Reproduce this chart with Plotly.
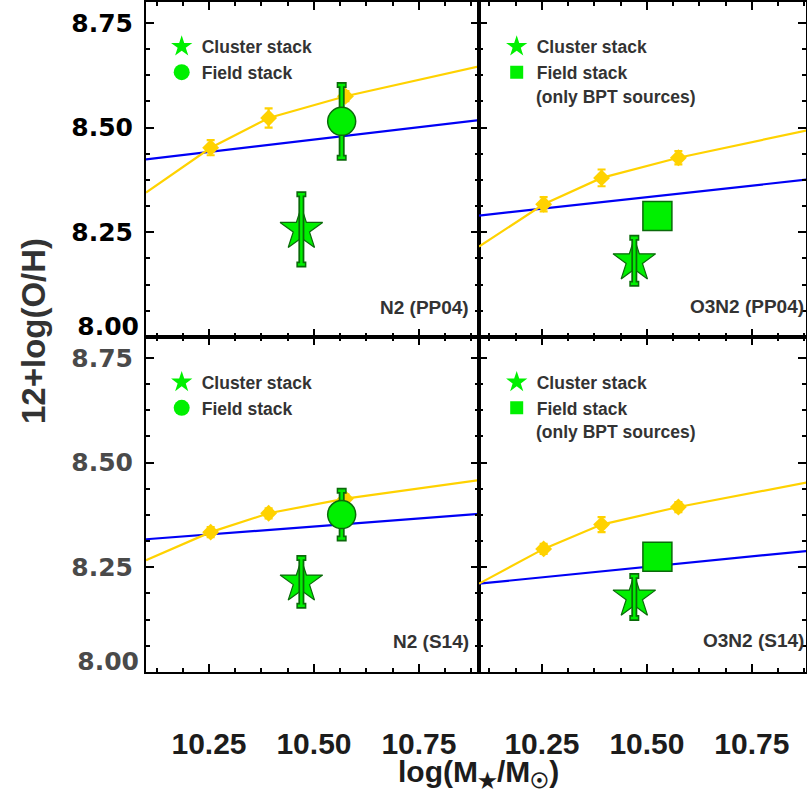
import plotly.graph_objects as go

# ---------------- data ----------------
x_tick_vals = [10.25, 10.50, 10.75]
x_tick_text = ["10.25", "10.50", "10.75"]
y_tick_vals = [8.00, 8.25, 8.50, 8.75]
y_tick_text = ["8.00", "8.25", "8.50", "8.75"]

panel_labels = ["N2 (PP04)", "O3N2 (PP04)", "N2 (S14)", "O3N2 (S14)"]
legend_cluster = "Cluster stack"
legend_field = "Field stack"
legend_field_note = "(only BPT sources)"

# yellow local relation: binned points
bin_mass = [10.254, 10.392, 10.575]
bin_oh_n2_pp04 = [8.452, 8.523, 8.575]
bin_err_n2_pp04 = [0.018, 0.023, 0.012]
bin_oh_o3n2_pp04 = [8.317, 8.380, 8.428]
bin_err_o3n2_pp04 = [0.017, 0.020, 0.016]
bin_oh_n2_s14 = [8.334, 8.379, 8.414]
bin_err_n2_s14 = [0.012, 0.012, 0.010]
bin_oh_o3n2_s14 = [8.294, 8.352, 8.394]
bin_err_o3n2_s14 = [0.012, 0.018, 0.012]

# yellow curve nodes
curve_mass = [10.1, 10.254, 10.392, 10.575, 10.9]
curve_oh_n2_pp04 = [8.345, 8.452, 8.523, 8.575, 8.648]
curve_oh_o3n2_pp04 = [8.216, 8.317, 8.380, 8.428, 8.4975]
curve_oh_n2_s14 = [8.267, 8.334, 8.379, 8.414, 8.459]
curve_oh_o3n2_s14 = [8.211, 8.294, 8.352, 8.394, 8.456]

# blue relation
blue_mass = [10.1, 10.9]
blue_oh_n2_pp04 = [8.424, 8.519]
blue_oh_o3n2_pp04 = [8.290, 8.378]
blue_oh_n2_s14 = [8.317, 8.378]
blue_oh_o3n2_s14 = [8.211, 8.291]

# stacks
cluster_mass = [10.47, 10.47, 10.47, 10.47]
cluster_oh = [8.257, 8.182, 8.215, 8.179]
cluster_err = [0.084, 0.055, 0.057, 0.050]
field_mass = [10.566, 10.525, 10.566, 10.525]
field_oh = [8.515, 8.289, 8.376, 8.275]
field_err = [0.087, 0.0, 0.057, 0.0]
field_symbol = ["circle", "square", "circle", "square"]

bins_oh = [bin_oh_n2_pp04, bin_oh_o3n2_pp04, bin_oh_n2_s14, bin_oh_o3n2_s14]
bins_err = [bin_err_n2_pp04, bin_err_o3n2_pp04, bin_err_n2_s14, bin_err_o3n2_s14]
curves_oh = [curve_oh_n2_pp04, curve_oh_o3n2_pp04, curve_oh_n2_s14, curve_oh_o3n2_s14]
blues_oh = [blue_oh_n2_pp04, blue_oh_o3n2_pp04, blue_oh_n2_s14, blue_oh_o3n2_s14]

# ---------------- styling ----------------
W, H = 807, 801
L, R, T, B = 146, 1, 2, 129
PW, PH = W - L - R, H - T - B


def px(xp):
    return (xp - L) / PW


def py(yp):
    return (H - B - yp) / PH


GOLD = "#FFD200"
BLUE = "#0000F5"
LIME = "#00F000"
DARKG = "#0A6A0A"
TXT = "#333333"

LEG_FONT = dict(family="Liberation Sans", size=17.5, color=TXT, weight="bold")

fig = go.Figure()
axes = ["", "2", "3", "4"]
legends = ["legend", "legend2", "legend3", "legend4"]

for i in range(4):
    xa, ya = "x" + axes[i], "y" + axes[i]
    # blue line
    fig.add_trace(go.Scatter(x=blue_mass, y=blues_oh[i], mode="lines",
                             line=dict(color=BLUE, width=2.2), xaxis=xa, yaxis=ya,
                             showlegend=False, hoverinfo="skip"))
    # yellow curve
    fig.add_trace(go.Scatter(x=curve_mass, y=curves_oh[i], mode="lines",
                             line=dict(color=GOLD, width=2.2), xaxis=xa, yaxis=ya,
                             showlegend=False, hoverinfo="skip"))
    # yellow binned points
    fig.add_trace(go.Scatter(x=bin_mass, y=bins_oh[i], mode="markers",
                             marker=dict(symbol="diamond", size=13, color=GOLD),
                             error_y=dict(type="data", array=bins_err[i], color=GOLD,
                                          thickness=2.2, width=4),
                             xaxis=xa, yaxis=ya, showlegend=False, hoverinfo="skip"))
    # field stack (error bar below marker)
    if field_err[i] > 0:
        for col, th, wd in [(DARKG, 6, 5), (LIME, 2.5, 3.5)]:
            fig.add_trace(go.Scatter(x=[field_mass[i]], y=[field_oh[i]], mode="markers",
                                     marker=dict(size=1, color="rgba(0,0,0,0)"),
                                     error_y=dict(type="data", array=[field_err[i]],
                                                  color=col, thickness=th, width=wd),
                                     xaxis=xa, yaxis=ya, showlegend=False, hoverinfo="skip"))
    fsize = 28 if field_symbol[i] == "circle" else 29
    fig.add_trace(go.Scatter(x=[field_mass[i]], y=[field_oh[i]], mode="markers",
                             marker=dict(symbol=field_symbol[i], size=fsize, color=LIME,
                                         line=dict(color=DARKG, width=1.5)),
                             xaxis=xa, yaxis=ya, showlegend=False, hoverinfo="skip"))
    # cluster stack (error bar above marker)
    fig.add_trace(go.Scatter(x=[cluster_mass[i]], y=[cluster_oh[i]], mode="markers",
                             marker=dict(symbol="star", size=32, color=LIME,
                                         line=dict(color=DARKG, width=1.2)),
                             xaxis=xa, yaxis=ya, showlegend=False, hoverinfo="skip"))
    for col, th, wd in [(DARKG, 6, 5), (LIME, 2.5, 3.5)]:
        fig.add_trace(go.Scatter(x=[cluster_mass[i]], y=[cluster_oh[i]], mode="markers",
                                 marker=dict(size=1, color="rgba(0,0,0,0)"),
                                 error_y=dict(type="data", array=[cluster_err[i]],
                                              color=col, thickness=th, width=wd),
                                 xaxis=xa, yaxis=ya, showlegend=False, hoverinfo="skip"))
    # legend entries
    fig.add_trace(go.Scatter(x=[None], y=[None], mode="markers", name=legend_cluster,
                             marker=dict(symbol="star", size=16, color=LIME),
                             xaxis=xa, yaxis=ya, legend=legends[i], showlegend=True))
    fig.add_trace(go.Scatter(x=[None], y=[None], mode="markers", name=legend_field,
                             marker=dict(symbol=field_symbol[i],
                                         size=16 if field_symbol[i] == "circle" else 13,
                                         color=LIME),
                             xaxis=xa, yaxis=ya, legend=legends[i], showlegend=True))

# dummy traces so the overlay label axes exist
fig.add_trace(go.Scatter(x=[None], y=[None], xaxis="x", yaxis="y5", showlegend=False))
fig.add_trace(go.Scatter(x=[None], y=[None], xaxis="x3", yaxis="y6", showlegend=False))

# ---------------- axes ----------------
x_dom = [[0, px(479)], [px(479), 1], [0, px(479)], [px(479), 1]]
y_dom = [[py(337), 1], [py(337), 1], [0, py(337)], [0, py(337)]]
x_rng = [[10.1, 10.893], [10.1, 10.879], [10.1, 10.893], [10.1, 10.879]]
y_rng = [8.0, 8.8]

common = dict(showline=True, linecolor="black", linewidth=2, mirror="ticks",
              ticks="inside", ticklen=8, tickwidth=1.6, tickcolor="black",
              showgrid=False, zeroline=False,
              minor=dict(ticks="inside", ticklen=4, tickwidth=1.6, tickcolor="black",
                         dtick=0.0625, showgrid=False))

ytick_colors = ["black", None, "#4a4a4a", None]
layout = {}
for i in range(4):
    xk = "xaxis" + axes[i]
    yk = "yaxis" + axes[i]
    xd = dict(common, domain=x_dom[i], range=x_rng[i], tickmode="array",
              tickvals=x_tick_vals, ticktext=x_tick_text, anchor="y" + axes[i])
    xd["minor"] = dict(common["minor"], tick0=10.0)
    if i >= 2:
        xd.update(showticklabels=True, ticklabelstandoff=44,
                  tickfont=dict(family="Liberation Sans", size=30, color="#1c1c1c",
                                weight="bold"))
    else:
        xd.update(showticklabels=False)
    # lowest label (8.00) is drawn on an overlay axis, lifted off the panel edge
    yd = dict(common, domain=y_dom[i], range=y_rng, tickmode="array",
              tickvals=y_tick_vals, ticktext=[""] + y_tick_text[1:], anchor="x" + axes[i])
    yd["minor"] = dict(common["minor"], tick0=8.0)
    if ytick_colors[i]:
        yd.update(showticklabels=True, ticklabelstandoff=6,
                  tickfont=dict(family="DejaVu Sans", size=25, color=ytick_colors[i],
                                weight="bold"))
    else:
        yd.update(showticklabels=False)
    layout[xk] = xd
    layout[yk] = yd

for k, base, xa in [("yaxis5", "y", "x"), ("yaxis6", "y3", "x3")]:
    col = ytick_colors[0] if base == "y" else ytick_colors[2]
    layout[k] = dict(overlaying=base, anchor=xa, side="left", range=y_rng,
                     tickmode="array", tickvals=y_tick_vals[:1], ticktext=y_tick_text[:1],
                     ticks="", showline=False, showgrid=False, zeroline=False,
                     ticklabelstandoff=6, ticklabelshift=-11,
                     tickfont=dict(family="DejaVu Sans", size=25, color=col, weight="bold"))

# legends
leg_x = [px(161.7), px(496.7), px(161.7), px(496.7)]
leg_y = [py(28.5), py(28.5), py(364.2), py(364.2)]
for i in range(4):
    layout[legends[i]] = dict(x=leg_x[i], y=leg_y[i], xanchor="left", yanchor="top",
                              bgcolor="rgba(0,0,0,0)", borderwidth=0, font=LEG_FONT,
                              itemsizing="trace", traceorder="normal")

annotations = []
# field note
for yp in (97, 432):
    annotations.append(dict(x=px(533.7), y=py(yp), xref="paper", yref="paper",
                            text=legend_field_note, showarrow=False, xanchor="left",
                            yanchor="middle", font=LEG_FONT))
# panel labels
lab_pos = [(471, 307), (806, 306), (471, 641), (806, 640)]
for i in range(4):
    annotations.append(dict(x=px(lab_pos[i][0]), y=py(lab_pos[i][1]), xref="paper",
                            yref="paper", text=panel_labels[i], showarrow=False,
                            xanchor="right", yanchor="middle",
                            font=dict(family="Liberation Sans", size=19, color=TXT,
                                      weight="bold")))
# axis titles
annotations.append(dict(x=px(33), y=py(331), xref="paper", yref="paper",
                        text="12+log(O/H)", textangle=-90, showarrow=False,
                        xanchor="center", yanchor="middle",
                        font=dict(family="Liberation Sans", size=33, color=TXT,
                                  weight="bold")))
annotations.append(dict(x=px(478), y=py(774), xref="paper", yref="paper",
                        text="log(M<sub>★</sub>/M<sub>☉</sub>)", showarrow=False,
                        xanchor="center", yanchor="middle",
                        font=dict(family="Liberation Sans", size=30, color="#1c1c1c",
                                  weight="bold")))

fig.update_layout(width=W, height=H, margin=dict(l=L, r=R, t=T, b=B, autoexpand=False),
                  paper_bgcolor="white", plot_bgcolor="white",
                  annotations=annotations, **layout)

fig.write_html("out.html", config={"displayModeBar": False},
               post_script="document.body.style.margin='0px';")
